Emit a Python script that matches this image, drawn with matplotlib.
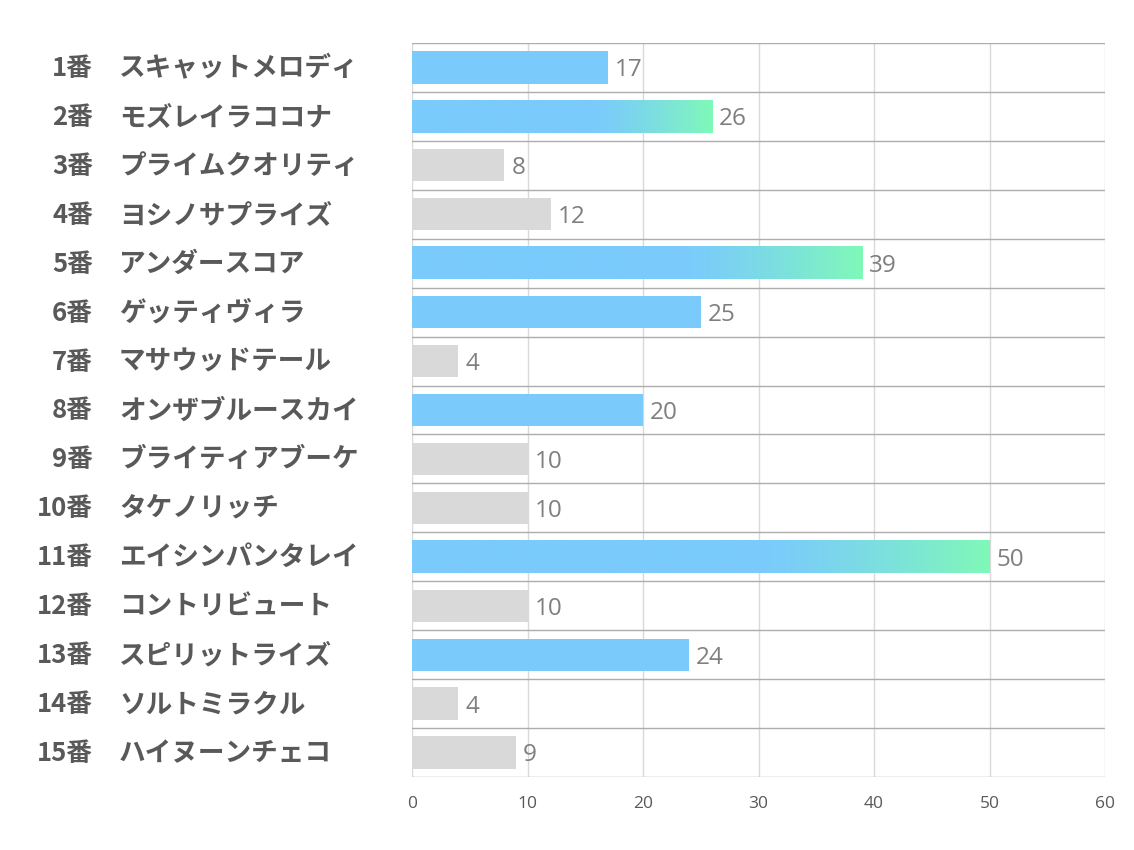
import numpy as np
import matplotlib.pyplot as plt
import matplotlib.transforms as mtrans
from matplotlib.colors import to_rgb

nums = ['1番', '2番', '3番', '4番', '5番', '6番', '7番', '8番', '9番', '10番',
        '11番', '12番', '13番', '14番', '15番']
names = ['スキャットメロディ', 'モズレイラココナ', 'プライムクオリティ', 'ヨシノサプライズ',
         'アンダースコア', 'ゲッティヴィラ', 'マサウッドテール', 'オンザブルースカイ',
         'ブライティアブーケ', 'タケノリッチ', 'エイシンパンタレイ', 'コントリビュート',
         'スピリットライズ', 'ソルトミラクル', 'ハイヌーンチェコ']
values = [17, 26, 8, 12, 39, 25, 4, 20, 10, 10, 50, 10, 24, 4, 9]
# 0 = gray, 1 = blue, 2 = blue->green gradient
kind = [1, 2, 0, 0, 2, 1, 0, 1, 0, 0, 2, 0, 1, 0, 0]
xticks = [0, 10, 20, 30, 40, 50, 60]

blue = np.array(to_rgb('#7ACBFC'))
green = np.array(to_rgb('#7FF9B8'))
gray = '#D9D9D9'
txt = '#595959'
jp = ['Noto Sans CJK JP', 'DejaVu Sans']

fig = plt.figure(figsize=(11.34, 8.5), dpi=100)
ax = fig.add_axes([412/1134, 1-777/850, 693/1134, 734/850])

h = 0.66
for i, v in enumerate(values):
    if kind[i] == 0:
        ax.barh(i, v, height=h, color=gray, zorder=2)
    elif kind[i] == 1:
        ax.barh(i, v, height=h, color='#7ACBFC', zorder=2)
    else:
        t = np.linspace(0, 1, 300)
        a = np.clip((t - 0.6) / 0.4, 0, 1) ** 1.3
        img = (blue * (1 - a[:, None]) + green * a[:, None])[None, :, :]
        ax.imshow(img, extent=(0, v, i + h/2, i - h/2), aspect='auto',
                  interpolation='bilinear', zorder=2)
    ax.text(v + 0.6, i + 0.06, str(v), va='center', ha='left', fontsize=17.5,
            color='#7F7F7F', family='Open Sans', zorder=3)

ax.set_xlim(0, 60)
ax.set_ylim(len(values) - 0.5, -0.5)
ax.set_aspect('auto')
ax.set_xticks(xticks)
ax.set_xticklabels([str(x) for x in xticks], fontsize=12.5, color=txt, family='Open Sans')
ax.set_yticks([])
ax.tick_params(axis='x', length=0, pad=14)
for s in ax.spines.values():
    s.set_visible(False)

for x in xticks:
    ax.axvline(x, color='#D9D9D9', lw=1, zorder=1)
for k in range(len(values) + 1):
    ax.axhline(k - 0.5, color='#ADADAD', lw=1.0, zorder=1)

tr = mtrans.blended_transform_factory(fig.transFigure, ax.transData)
for i in range(len(values)):
    ax.text(93/1134, i + 0.02, nums[i], transform=tr, ha='right', va='center',
            fontsize=18.5, fontweight='bold', color=txt, family=jp)
    ax.text(119/1134, i + 0.02, names[i], transform=tr, ha='left', va='center',
            fontsize=19.2, fontweight='bold', color=txt, family=jp)

fig.savefig('out.png', dpi=100)
